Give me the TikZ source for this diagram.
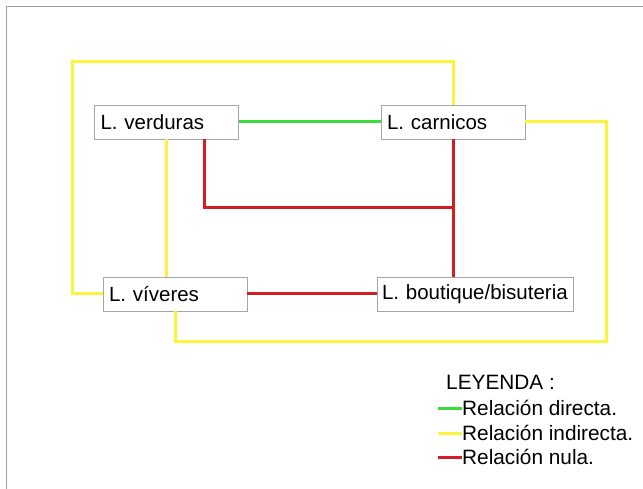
\documentclass[tikz,border=0pt]{standalone}
\usepackage{fontspec}
\setmainfont{Liberation Sans}
\usetikzlibrary{positioning,calc}
\definecolor{relgreen}{RGB}{60,220,60}
\definecolor{relyellow}{RGB}{250,245,60}
\definecolor{relred}{RGB}{210,30,35}
\tikzset{
    frame line/.style={draw=gray!75,line width=1pt},
    local box/.style={draw=gray!70,rectangle,inner xsep=6pt,inner ysep=0pt,minimum height=34pt,align=left,font=\fontsize{20.5}{24}\selectfont},
    rel directa/.style={draw=relgreen,line width=3pt},
    rel indirecta/.style={draw=relyellow,line width=3pt},
    rel nula/.style={draw=relred,line width=3pt},
    legend text/.style={inner sep=0pt,font=\fontsize{20.8}{24}\selectfont},
}

\begin{document}
\begin{tikzpicture}[x=1pt,y=-1pt]
    \useasboundingbox[fill=white] (0,0) rectangle (643,489);
    \draw[frame line] (6,489) -- (6,7) -- (643,7);

    \node[local box,text width=132pt] (verduras) at (166.5,122) {L. verduras};
    \node[local box,text width=132pt] (carnicos) at (453,122) {L. carnicos};
    \node[local box,text width=132pt] (viveres) at (175,294) {L. víveres};
    \node[local box,text width=186pt,inner xsep=5pt] (boutique) at (475,294) {\mbox{L. boutique/bisuteria}};

    % relaciones
    \coordinate (top left) at (72,62);
    \coordinate (bottom right) at (606,341);
    \coordinate (red joint) at (453,208);

    \draw[rel directa] (verduras.east) -- (carnicos.west);

    \draw[rel indirecta] (viveres.west) -| (top left) -| (carnicos.north);
    \draw[rel indirecta] (verduras.south) -- (verduras.south |- viveres.north);
    \draw[rel indirecta] (carnicos.east) -| (bottom right) -| (viveres.south);

    \draw[rel nula] ([xshift=37.5pt]verduras.south) |- (red joint);
    \draw[rel nula] (carnicos.south) -- (carnicos.south |- boutique.north);
    \draw[rel nula] (viveres.east) -- (boutique.west);

    % leyenda
    \node[legend text,anchor=base west] (leyenda) at (446,389) {LEYENDA :};
    \node[legend text,anchor=base west] (ley directa) at (462,415) {Relación directa.};
    \node[legend text,anchor=base west] (ley indirecta) at (462,440) {Relación indirecta.};
    \node[legend text,anchor=base west] (ley nula) at (462,464) {Relación nula.};
    \draw[rel directa] ([yshift=7pt]ley directa.base west) -- ++(-24,0);
    \draw[rel indirecta] ([yshift=7pt]ley indirecta.base west) -- ++(-24,0);
    \draw[rel nula] ([yshift=7pt]ley nula.base west) -- ++(-24,0);
\end{tikzpicture}
\end{document}
